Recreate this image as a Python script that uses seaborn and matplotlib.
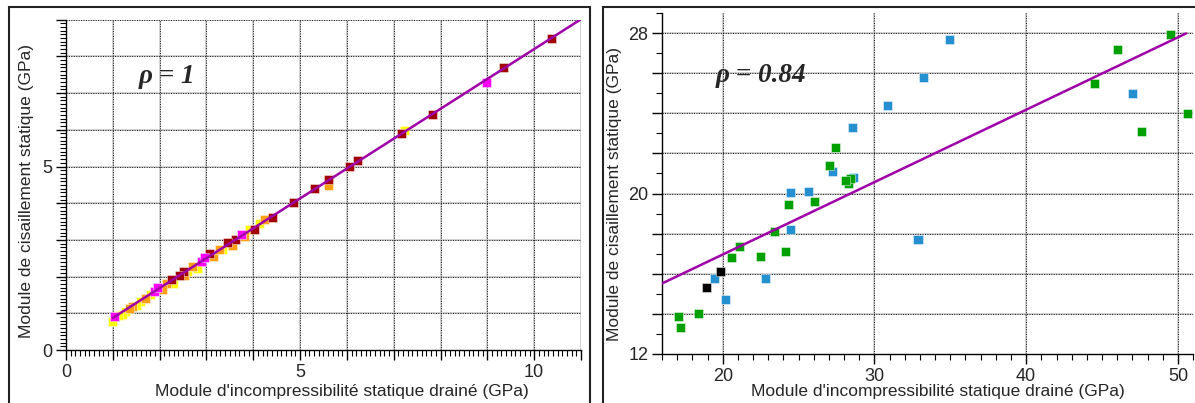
import numpy as np
import pandas as pd
import matplotlib
matplotlib.use("Agg")
import matplotlib.pyplot as plt
import seaborn as sns
from matplotlib.ticker import MultipleLocator, FuncFormatter
from matplotlib.patches import Rectangle

# --- Données ---
# Panneau gauche (rho = 1)
k_gauche = [0.99, 1.12, 1.20, 1.28, 1.50, 1.60, 1.80, 2.30, 2.60, 2.80, 3.35, 3.91, 4.13, 7.23,
            1.35, 1.43, 1.70, 2.07, 2.15, 2.53, 2.71, 3.15, 3.28, 3.55, 3.82, 4.23, 5.60,
            2.25, 2.43, 2.50, 3.06, 3.45, 3.63, 4.02, 4.41, 4.87, 5.30, 5.60, 6.06, 6.23,
            7.17, 7.83, 9.34, 10.38,
            1.04, 1.90, 1.96, 2.90, 2.96, 3.74, 8.98]
g_gauche = [0.79, 0.93, 0.98, 1.05, 1.22, 1.33, 1.50, 1.82, 2.14, 2.22, 2.75, 3.28, 3.46, 5.98,
            1.12, 1.19, 1.40, 1.64, 1.80, 2.04, 2.28, 2.55, 2.73, 2.85, 3.10, 3.55, 4.48,
            1.91, 2.02, 2.14, 2.64, 2.92, 3.00, 3.28, 3.60, 4.01, 4.40, 4.64, 5.00, 5.17,
            5.90, 6.42, 7.70, 8.50,
            0.91, 1.60, 1.69, 2.42, 2.51, 3.14, 7.29]
serie_gauche = (["jaune"] * 14 + ["orange"] * 13 + ["rouge"] * 17 + ["magenta"] * 7)
droite_gauche = {"x": [1.0, 11.0], "pente": 0.814, "ordonnee": 0.06}

# Panneau droit (rho = 0.84)
k_droite = [30.86, 28.55, 27.22, 28.61, 24.47, 25.64, 24.47, 19.43, 22.80, 20.18, 34.96, 33.24,
            47.03, 32.87,
            27.42, 27.07, 28.11, 28.28, 28.44, 24.32, 26.08, 23.42, 21.08, 20.59, 22.47, 24.12,
            17.11, 17.20, 18.43, 49.52, 46.00, 44.48, 50.62, 47.58,
            19.85, 18.94]
g_droite = [24.38, 23.28, 21.12, 20.79, 20.06, 20.12, 18.23, 15.75, 15.75, 14.70, 27.67, 25.79,
            25.01, 17.72,
            22.30, 21.42, 20.67, 20.51, 20.76, 19.44, 19.59, 18.13, 17.35, 16.80, 16.85, 17.10,
            13.88, 13.31, 14.03, 27.94, 27.19, 25.47, 23.98, 23.08,
            16.12, 15.34]
serie_droite = ["bleu"] * 14 + ["vert"] * 20 + ["noir"] * 2
droite_droite = {"x": [16.0, 50.54], "pente": 0.361, "ordonnee": 9.74}

couleurs = {"jaune": "#ffff00", "orange": "#ffa010", "rouge": "#a00000", "magenta": "#ff00ff",
            "bleu": "#2590d0", "vert": "#00a000", "noir": "#000000"}

sns.set_style("white")
plt.rcParams["font.family"] = ["Liberation Sans", "DejaVu Sans"]

fig = plt.figure(figsize=(11.95, 4.03), dpi=100)
ax1 = fig.add_axes([0.0552, 0.1315, 0.431, 0.8196])
ax2 = fig.add_axes([0.554, 0.1216, 0.4444, 0.846])

# cadres autour des deux panneaux
fig.patches.append(Rectangle((9 / 1195, -0.05), 581 / 1195, 1 - 7 / 403 + 0.05, transform=fig.transFigure,
                             fill=False, ec="#222222", lw=1.5))
fig.patches.append(Rectangle((603 / 1195, -0.05), 0.6, 1 - 7 / 403 + 0.05, transform=fig.transFigure,
                             fill=False, ec="#222222", lw=1.5))


def grille(ax):
    for v in ax.get_xticks():
        if ax.get_xlim()[0] < v <= ax.get_xlim()[1] + 1e-9:
            ax.axvline(v, color="#c4c4c4", lw=1.1, zorder=0)
            ax.axvline(v, color="#111111", lw=0.7, ls=(0, (1, 1.5)), zorder=0.5)
    for v in ax.get_yticks():
        if ax.get_ylim()[0] < v <= ax.get_ylim()[1] + 1e-9:
            ax.axhline(v, color="#c4c4c4", lw=1.1, zorder=0)
            ax.axhline(v, color="#111111", lw=0.7, ls=(0, (1, 1.5)), zorder=0.5)


def panneau(ax, k, g, serie, droite, ordre):
    df = pd.DataFrame({"k": k, "g": g, "serie": serie})
    df["serie"] = pd.Categorical(df["serie"], categories=ordre, ordered=True)
    df = df.sort_values("serie")
    xs = np.array(droite["x"])
    ys = droite["pente"] * xs + droite["ordonnee"]
    sns.scatterplot(data=df, x="k", y="g", hue="serie", palette=couleurs, marker="s", s=42,
                    edgecolor=(1, 1, 1, 0.45), linewidth=0.7, legend=False, ax=ax, zorder=3)
    sns.lineplot(x=xs, y=ys, color="#a000a8", lw=1.8, ax=ax, zorder=4)
    for s in ["top", "right"]:
        ax.spines[s].set_visible(False)
    for s in ["left", "bottom"]:
        ax.spines[s].set_color("black")
        ax.spines[s].set_linewidth(1.0)
    ax.tick_params(which="major", direction="out", length=7, width=1, color="black",
                   labelsize=13, bottom=True, left=True, pad=3)
    ax.tick_params(which="minor", direction="out", length=4, width=0.8, color="black",
                   bottom=True, left=True)
    ax.set_xlabel("Module d'incompressibilité statique drainé (GPa)", fontsize=12.5)
    ax.set_ylabel("Module de cisaillement statique (GPa)", fontsize=12.5)


panneau(ax1, k_gauche, g_gauche, serie_gauche, droite_gauche, ["jaune", "orange", "rouge", "magenta"])
ax1.set_xlim(0, 11)
ax1.set_ylim(0, 9)
ax1.xaxis.set_major_locator(MultipleLocator(1))
ax1.yaxis.set_major_locator(MultipleLocator(1))
ax1.xaxis.set_minor_locator(MultipleLocator(0.1))
ax1.yaxis.set_minor_locator(MultipleLocator(0.1))
fmt5 = FuncFormatter(lambda v, p: f"{v:.0f}" if abs(v % 5) < 1e-6 else "")
ax1.xaxis.set_major_formatter(fmt5)
ax1.yaxis.set_major_formatter(fmt5)
grille(ax1)
ax1.text(1.55, 7.46, "ρ = 1", fontsize=19.5, fontweight="bold", fontstyle="italic",
         family="Liberation Serif", va="center", ha="left", zorder=5)
ax1.xaxis.set_label_coords(0.536, -0.103)
ax1.yaxis.set_label_coords(-0.062, 0.48)

panneau(ax2, k_droite, g_droite, serie_droite, droite_droite, ["bleu", "vert", "noir"])
ax2.set_xlim(16, 51)
ax2.set_ylim(12, 29)
ax2.xaxis.set_major_locator(MultipleLocator(10))
ax2.xaxis.set_minor_locator(MultipleLocator(1))
ax2.yaxis.set_major_locator(MultipleLocator(2))
ax2.yaxis.set_minor_locator(MultipleLocator(1))
ax2.yaxis.set_major_formatter(FuncFormatter(lambda v, p: f"{v:.0f}" if abs(v % 8 - 4) < 1e-6 else ""))
grille(ax2)
ax2.text(19.55, 25.9, "ρ = 0.84", fontsize=19.5, fontweight="bold", fontstyle="italic",
         family="Liberation Serif", va="center", ha="left", zorder=5)
ax2.xaxis.set_label_coords(0.52, -0.088)
ax2.yaxis.set_label_coords(-0.075, 0.47)

fig.savefig("out.png", dpi=100)
